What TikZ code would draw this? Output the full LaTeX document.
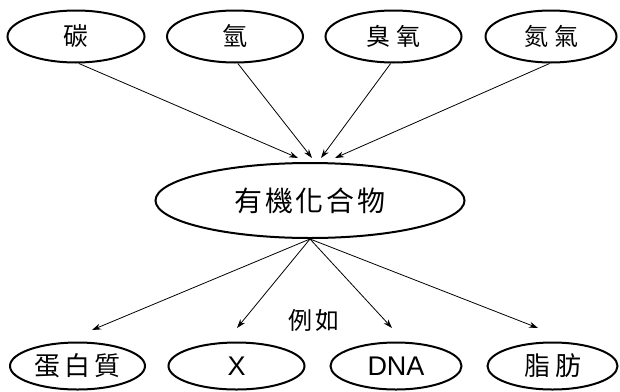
\documentclass[tikz,border=0pt]{standalone}
\usepackage{fontspec}
\setmainfont{Liberation Sans}
\newfontfamily\cj{Noto Sans CJK TC}
\usetikzlibrary{shapes.geometric,arrows.meta}
\begin{document}
\begin{tikzpicture}[x=1pt,y=-1pt,
  ov/.style={draw=black,line width=2pt,ellipse,inner sep=0pt,minimum height=52pt},
  arr/.style={line width=0.8pt,-{Stealth[length=9pt,width=6pt]}}]
\useasboundingbox (0,0) rectangle (620,391);
% top
\node[ov,minimum width=137pt] (t1) at (76,36.5) {\cj\fontsize{25}{28}\selectfont 碳};
\node[ov,minimum width=136pt] (t2) at (235,36.5) {\cj\fontsize{25}{28}\selectfont 氫};
\node[ov,minimum width=136pt] (t3) at (393.5,36.5) {\cj\fontsize{24}{28}\selectfont 臭\hspace{6pt}氧};
\node[ov,minimum width=131pt] (t4) at (551,36.5) {\cj\fontsize{24}{28}\selectfont 氮\hspace{6pt}氣};
% center
\node[ov,minimum width=309pt,minimum height=75pt] (c) at (310,200.5) {\cj\fontsize{28}{32}\selectfont 有\hspace{3pt}機\hspace{3pt}化\hspace{3pt}合\hspace{3pt}物};
% bottom
\node[ov,minimum width=135pt,minimum height=47pt] (b1) at (77.5,366) {\cj\fontsize{26}{30}\selectfont 蛋\hspace{4pt}白\hspace{4pt}質};
\node[ov,minimum width=136pt,minimum height=47pt] (b2) at (236.5,366) {\fontsize{27}{30}\selectfont X};
\node[ov,minimum width=131pt,minimum height=47pt] (b3) at (396,366) {\fontsize{27}{30}\selectfont DNA};
\node[ov,minimum width=130pt,minimum height=47pt] (b4) at (552.5,366) {\cj\fontsize{26}{30}\selectfont 脂\hspace{5pt}肪};
\node (ex) at (314,320) {\cj\fontsize{24}{28}\selectfont 例\hspace{4pt}如};
% arrow end points
\coordinate (e1) at (298,158);
\coordinate (e2) at (312,158);
\coordinate (e3) at (321,158);
\coordinate (e4) at (335,158);
\coordinate (f1) at (92,330);
\coordinate (f2) at (237,328);
\coordinate (f3) at (392,328);
\coordinate (f4) at (538,328);
\draw[arr] (t1.-84) -- (e1);
\draw[arr] (t2.-84) -- (e2);
\draw[arr] (t3.-96) -- (e3);
\draw[arr] (t4.-93) -- (e4);
\draw[arr] (c.south) -- (f1);
\draw[arr] (c.south) -- (f2);
\draw[arr] (c.south) -- (f3);
\draw[arr] (c.south) -- (f4);
\end{tikzpicture}
\end{document}
